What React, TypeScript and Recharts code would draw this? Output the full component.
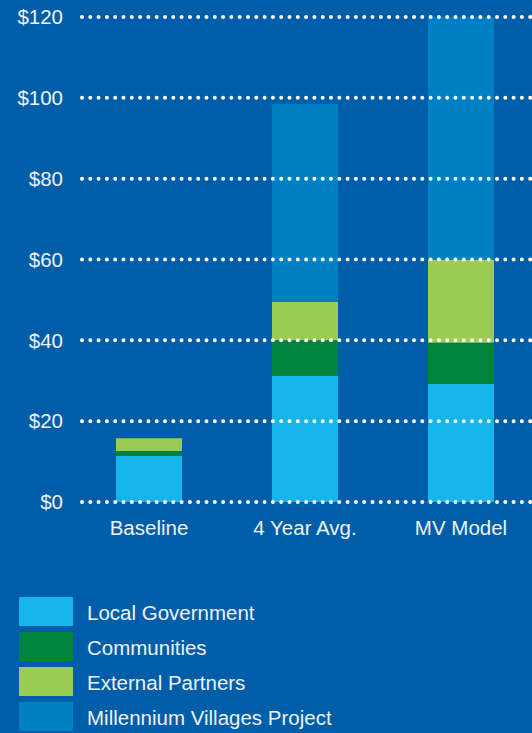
import React from 'react'
import { BarChart, Bar, XAxis, YAxis, ReferenceLine } from 'recharts'

const categories = ['Baseline', '4 Year Avg.', 'MV Model']
const localGovernment = [11.4, 31.2, 29.2]
const communities = [1.2, 8.8, 10.2]
const externalPartners = [3.2, 9.5, 20.6]
const millenniumVillages = [0, 49, 60]
const yTicks = [0, 20, 40, 60, 80, 100, 120]

const series = [
  { key: 'local', name: 'Local Government', color: '#16b5ea', values: localGovernment },
  { key: 'comm', name: 'Communities', color: '#00843d', values: communities },
  { key: 'ext', name: 'External Partners', color: '#9bcb52', values: externalPartners },
  { key: 'mvp', name: 'Millennium Villages Project', color: '#0080c4', values: millenniumVillages },
]

const chartData = categories.map((c, i) => {
  const row: Record<string, string | number> = { category: c }
  series.forEach(s => {
    row[s.key] = s.values[i]
  })
  return row
})

const font = '"Liberation Sans", Arial, Helvetica, sans-serif'
const textColor = '#eef3fa'
const fontSize = 20.5

const App: React.FC = () => {
  return (
    <div style={{ width: 532, height: 733, background: '#005da8', fontFamily: font, position: 'relative', overflow: 'hidden' }}>
      <style>{'body{margin:0}'}</style>
      <BarChart
        width={532}
        height={545}
        data={chartData}
        margin={{ top: 17, right: 0, left: 0, bottom: 0 }}
        barCategoryGap={0}
      >
        <XAxis
          dataKey="category"
          axisLine={false}
          tickLine={false}
          height={43}
          tickMargin={12}
          padding={{ left: -11, right: -7 }}
          tick={{ fill: textColor, fontSize, fontFamily: font }}
        />
        <YAxis
          domain={[0, 120]}
          ticks={yTicks}
          width={82}
          axisLine={false}
          tickLine={false}
          tickMargin={13}
          tickFormatter={(v: number) => `$${v}`}
          tick={{ fill: textColor, fontSize, fontFamily: font }}
        />
        {series.map(s => (
          <Bar
            key={s.key}
            dataKey={s.key}
            name={s.name}
            stackId="a"
            fill={s.color}
            barSize={66}
            isAnimationActive={false}
          />
        ))}
        {yTicks.map(t => (
          <ReferenceLine
            key={t}
            y={t}
            stroke="#ffffff"
            strokeWidth={4}
            strokeDasharray="0 8.3"
            strokeLinecap="round"
          />
        ))}
      </BarChart>
      <div style={{ position: 'absolute', left: 19, top: 597 }}>
        {series.map(s => (
          <div key={s.key} style={{ display: 'flex', alignItems: 'center', height: 29, marginBottom: 6 }}>
            <div style={{ width: 54, height: 29, background: s.color }} />
            <span style={{ marginLeft: 14, marginTop: 3, color: textColor, fontSize }}>{s.name}</span>
          </div>
        ))}
      </div>
    </div>
  )
}

export default App
